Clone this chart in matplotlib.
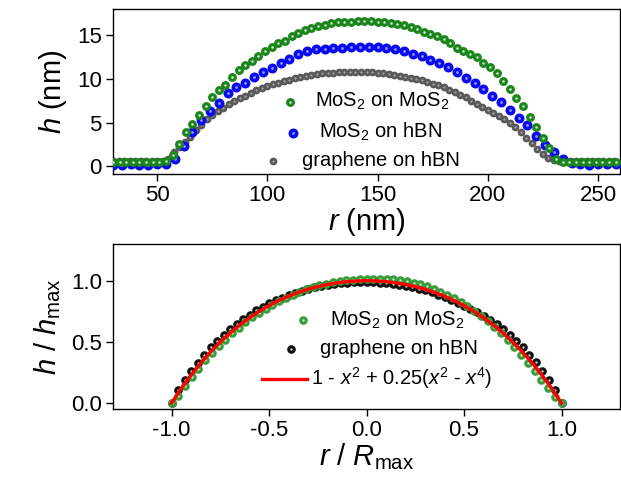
import numpy as np
import matplotlib
matplotlib.use("Agg")
import matplotlib.pyplot as plt

plt.rcParams['font.family'] = ['Liberation Sans', 'DejaVu Sans']
plt.rcParams['mathtext.fontset'] = 'custom'
plt.rcParams['mathtext.rm'] = 'Liberation Sans'
plt.rcParams['mathtext.it'] = 'Liberation Sans:italic'
plt.rcParams['axes.unicode_minus'] = False

# ---- top panel: height profiles h(r) in nm ----
# MoS2 on MoS2, sampled every 3 nm from 30 nm
r_mos2 = np.arange(30, 259, 3)
h_mos2 = [0.55, 0.55, 0.55, 0.55, 0.55, 0.55, 0.55, 0.5, 0.6, 1.3,
          2.6, 3.9, 4.9, 5.9, 6.9, 7.9, 8.7, 9.3, 10.2, 11.0,
          11.6, 12.1, 12.7, 13.2, 13.7, 14.1, 14.4, 14.9, 15.3, 15.6,
          15.85, 16.05, 16.25, 16.4, 16.5, 16.55, 16.6, 16.65, 16.7, 16.65,
          16.6, 16.5, 16.45, 16.35, 16.2, 15.95, 15.7, 15.45, 15.2, 14.9,
          14.6, 14.1, 13.6, 13.25, 12.9, 12.5, 11.9, 11.4, 10.7, 9.8,
          8.9, 7.8, 6.9, 5.7, 4.5, 3.3, 2.1, 0.9, 0.5, 0.5,
          0.5, 0.55, 0.5, 0.55, 0.5, 0.55, 0.5]

# MoS2 on hBN, sampled every 4 nm
r_hbn = np.arange(30, 259, 4)
h_hbn = [0.2, 0.2, 0.25, 0.2, 0.2, 0.25, 0.3, 0.9, 2.3, 3.9,
         5.3, 6.3, 7.3, 8.4, 9.1, 9.6, 10.2, 10.8, 11.3, 11.9,
         12.3, 12.9, 13.2, 13.4, 13.5, 13.6, 13.6, 13.65, 13.7, 13.7,
         13.7, 13.6, 13.4, 13.2, 12.9, 12.6, 12.2, 11.8, 11.4, 10.8,
         10.1, 9.6, 8.9, 8.1, 7.4, 6.5, 5.6, 4.7, 3.5, 2.4,
         1.6, 0.8, 0.35, 0.3, 0.2, 0.3, 0.25, 0.3]

# graphene on hBN, sampled every 2.5 nm
r_gr = np.arange(30, 258, 2.5)
h_gr = [0.6, 0.6, 0.6, 0.6, 0.6, 0.6, 0.6, 0.6, 0.6, 0.65, 0.9,
        1.6, 2.2, 2.8, 3.4, 4.2, 4.8, 5.4, 5.9, 6.3, 6.7,
        7.1, 7.5, 7.8, 8.1, 8.4, 8.7, 8.95, 9.2, 9.4, 9.6,
        9.75, 9.9, 10.1, 10.25, 10.4, 10.5, 10.6, 10.65, 10.7, 10.75,
        10.8, 10.8, 10.85, 10.85, 10.85, 10.8, 10.8, 10.75, 10.7, 10.6,
        10.5, 10.4, 10.3, 10.15, 10.0, 9.85, 9.65, 9.5, 9.3, 9.1,
        8.8, 8.5, 8.2, 7.9, 7.5, 7.2, 6.8, 6.5, 6.1, 5.8,
        5.4, 5.0, 4.5, 3.9, 3.3, 2.7, 2.0, 1.4, 0.95, 0.7,
        0.6, 0.6, 0.6, 0.6, 0.6, 0.6, 0.6, 0.6, 0.6, 0.6, 0.6]

# ---- bottom panel: normalized profiles ----
x_mos2n = np.linspace(-1, 1, 59)
h_mos2n = [0.0, 0.06, 0.14, 0.21, 0.28, 0.35, 0.41, 0.465, 0.52, 0.57,
           0.615, 0.66, 0.70, 0.737, 0.772, 0.805, 0.835, 0.862, 0.887, 0.91,
           0.93, 0.947, 0.962, 0.976, 0.988, 0.997, 1.004, 1.009, 1.013, 1.016,
           1.018, 1.018, 1.016, 1.012, 1.005, 0.996, 0.985, 0.970, 0.953, 0.933,
           0.91, 0.885, 0.857, 0.826, 0.792, 0.755, 0.716, 0.672, 0.625, 0.575,
           0.52, 0.46, 0.395, 0.33, 0.26, 0.19, 0.12, 0.05, 0.0]

x_grn = np.linspace(-1, 1, 61)
h_grn = [0.0, 0.11, 0.19, 0.265, 0.33, 0.395, 0.455, 0.51, 0.56, 0.605,
         0.65, 0.688, 0.724, 0.757, 0.787, 0.815, 0.84, 0.863, 0.884, 0.902,
         0.92, 0.934, 0.947, 0.958, 0.967, 0.974, 0.979, 0.983, 0.986, 0.988,
         0.988, 0.987, 0.985, 0.981, 0.976, 0.969, 0.96, 0.949, 0.936, 0.921,
         0.904, 0.886, 0.866, 0.845, 0.822, 0.797, 0.77, 0.742, 0.712, 0.68,
         0.645, 0.605, 0.56, 0.51, 0.455, 0.395, 0.335, 0.265, 0.19, 0.105, 0.0]

# model curve 1 - x^2 + 0.25(x^2 - x^4), tabulated
x_fit = np.linspace(-1, 1, 41)
h_fit = [0.0, 0.1195, 0.2285, 0.3276, 0.4176, 0.4990, 0.5725, 0.6385, 0.6976, 0.7502,
         0.7969, 0.8379, 0.8736, 0.9044, 0.9305, 0.9521, 0.9696, 0.9830, 0.9925, 0.9981,
         1.0,
         0.9981, 0.9925, 0.9830, 0.9696, 0.9521, 0.9305, 0.9044, 0.8736, 0.8379, 0.7969,
         0.7502, 0.6976, 0.6385, 0.5725, 0.4990, 0.4176, 0.3276, 0.2285, 0.1195, 0.0]

W, H = 621, 483
fig = plt.figure(figsize=(W / 100, H / 100), dpi=100)
ax1 = fig.add_axes([113 / W, 1 - 174.3 / H, 507 / W, 165 / H])
ax2 = fig.add_axes([113 / W, 1 - 409.3 / H, 507 / W, 165.3 / H])


def balls(ax, x, y, color, light, ms, z, **kw):
    ax.plot(x, y, 'o', ms=ms, mfc=color, mec='none', zorder=z, **kw)
    ax.plot(x, y, 'o', ms=ms * 0.28, mfc=light, mec='none', zorder=z + 0.1, **kw)


GREEN = '#1b861b'
GREEN2 = '#3a9c3a'
BLUE = '#0a0af0'
GRAY = '#5a5a5a'

MS_G, MS_B, MS_GR, MS_N = 6.4, 7.2, 5.6, 6.2

balls(ax1, r_gr, h_gr, GRAY, '#a8a8a8', MS_GR, 2)
balls(ax1, r_hbn, h_hbn, BLUE, '#8f96ff', MS_B, 3)
balls(ax1, r_mos2, h_mos2, GREEN, '#d8f0d8', MS_G, 4)

ax1.set_xlim(30, 260)
ax1.set_ylim(-0.9, 18)
ax1.set_xticks([50, 100, 150, 200, 250])
ax1.set_yticks([0, 5, 10, 15])
ax1.set_xlabel(r'$r$ (nm)', fontsize=21, labelpad=0)
ax1.set_ylabel(r'$h$ (nm)', fontsize=21, labelpad=6)

balls(ax2, x_grn, h_grn, '#111111', '#c8c8c8', MS_N, 2)
balls(ax2, x_mos2n, h_mos2n, GREEN2, '#c8e8c8', MS_N, 3)
ax2.plot(x_fit, h_fit, '-', color='#ff0000', lw=2.4, zorder=5)

ax2.set_xlim(-1.3, 1.3)
ax2.set_ylim(-0.05, 1.3)
ax2.set_xticks([-1.0, -0.5, 0.0, 0.5, 1.0])
ax2.set_xticklabels(['-1.0', '-0.5', '0.0', '0.5', '1.0'])
ax2.set_yticks([0.0, 0.5, 1.0])
ax2.set_yticklabels(['0.0', '0.5', '1.0'])
ax2.set_xlabel(r'$r$ / $R_{\mathrm{max}}$', fontsize=21, labelpad=0)
ax2.set_ylabel(r'$h$ / $h_{\mathrm{max}}$', fontsize=21, labelpad=6)

for ax in (ax1, ax2):
    ax.tick_params(direction='out', length=5, width=1, labelsize=16, pad=3)
    for s in ax.spines.values():
        s.set_linewidth(1.0)


# legend entries drawn by hand, each row centred like the original
def fx(px):
    return px / W


def fy(py):
    return 1 - py / H


def leg_ball(px, py, color, light, ms):
    fig.lines.append(plt.Line2D([fx(px)], [fy(py)], marker='o', ms=ms, mfc=color,
                                mec='none', transform=fig.transFigure))
    fig.lines.append(plt.Line2D([fx(px)], [fy(py)], marker='o', ms=ms * 0.28, mfc=light,
                                mec='none', transform=fig.transFigure))


LEG = 14.5
leg_ball(290, 102, GREEN, '#d8f0d8', MS_G)
fig.text(fx(315), fy(101), r'MoS$_2$ on MoS$_2$', fontsize=LEG, va='center')
leg_ball(293, 133, BLUE, '#8f96ff', MS_B)
fig.text(fx(319), fy(132), r'MoS$_2$ on hBN', fontsize=LEG, va='center')
leg_ball(273, 161, GRAY, '#a8a8a8', MS_GR)
fig.text(fx(302), fy(161), 'graphene on hBN', fontsize=LEG, va='center')

leg_ball(303, 320, GREEN2, '#c8e8c8', MS_N)
fig.text(fx(330), fy(320), r'MoS$_2$ on MoS$_2$', fontsize=LEG, va='center')
leg_ball(291, 349, '#111111', '#c8c8c8', MS_N)
fig.text(fx(320), fy(349), 'graphene on hBN', fontsize=LEG, va='center')
fig.lines.append(plt.Line2D([fx(262), fx(307)], [fy(379), fy(379)], color='#ff0000',
                            lw=2.4, transform=fig.transFigure))
fig.text(fx(311), fy(378), r'1 - $x^2$ + 0.25($x^2$ - $x^4$)', fontsize=LEG, va='center')

fig.savefig('out.png', dpi=100)
